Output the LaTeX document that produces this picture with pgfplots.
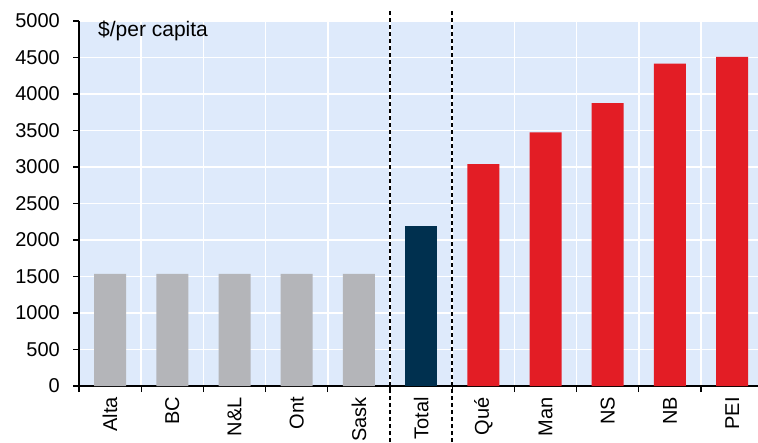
\documentclass[border=0pt]{standalone}
\usepackage{fontspec}
\setmainfont{Liberation Sans}
\usepackage{pgfplots}
\pgfplotsset{compat=1.18}

\definecolor{bgblue}{HTML}{DEEAFB}
\definecolor{provgray}{HTML}{B4B5B9}
\definecolor{totalnavy}{HTML}{00304F}
\definecolor{provred}{HTML}{E31D25}

\begin{document}
\begin{tikzpicture}[font=\fontsize{20}{24}\selectfont]
\useasboundingbox (0,0) rectangle (758pt,442pt);
\begin{axis}[
  at={(79pt,56pt)}, anchor=south west,
  scale only axis, width=679pt, height=365pt,
  xmin=-0.5, xmax=10.416, ymin=0, ymax=5000,
  axis x line*=bottom, axis y line*=left,
  axis line style={black, line width=1.2pt, -},
  tick style={black, line width=1.2pt},
  tick align=outside, major tick length=6pt,
  ytick={0,500,...,5000},
  xtick={-0.5,0.5,...,9.5}, xticklabels={},
  grid=major, grid style={white, line width=1.5pt},
  axis background/.style={fill=bgblue},
  /pgf/number format/1000 sep={},
  /pgf/number format/assume math mode=true,
  yticklabel style={anchor=east, inner sep=0pt, xshift=-13pt},
  extra x ticks={0,1,...,10},
  extra x tick labels={Alta,BC,N\&L,Ont,Sask,Total,Qué,Man,NS,NB,PEI},
  extra x tick style={major tick length=0pt, grid=none,
    tick label style={yshift=-11pt, rotate=90, anchor=east, inner sep=0pt}},
  clip=false,
]
% provinces below the national figure
\addplot[ybar, bar width=32pt, bar shift=0pt, fill=provgray, draw=none]
  coordinates {(0,1535) (1,1535) (2,1535) (3,1535) (4,1535)};
% national total
\addplot[ybar, bar width=32pt, bar shift=0pt, fill=totalnavy, draw=none]
  coordinates {(5,2190)};
% provinces above the national figure
\addplot[ybar, bar width=32pt, bar shift=0pt, fill=provred, draw=none]
  coordinates {(6,3040) (7,3475) (8,3875) (9,4415) (10,4510)};
% separators around the total
\draw[black, line width=1.5pt, dash pattern=on 4.5pt off 2.5pt]
  (axis cs:4.5,-770) -- (axis cs:4.5,5165);
\draw[black, line width=1.5pt, dash pattern=on 4.5pt off 2.5pt]
  (axis cs:5.5,-770) -- (axis cs:5.5,5165);
\end{axis}
\node[anchor=base west, inner sep=0pt, font=\fontsize{21}{25}\selectfont]
  at (98pt,405pt) {\$/per capita};
\end{tikzpicture}
\end{document}
